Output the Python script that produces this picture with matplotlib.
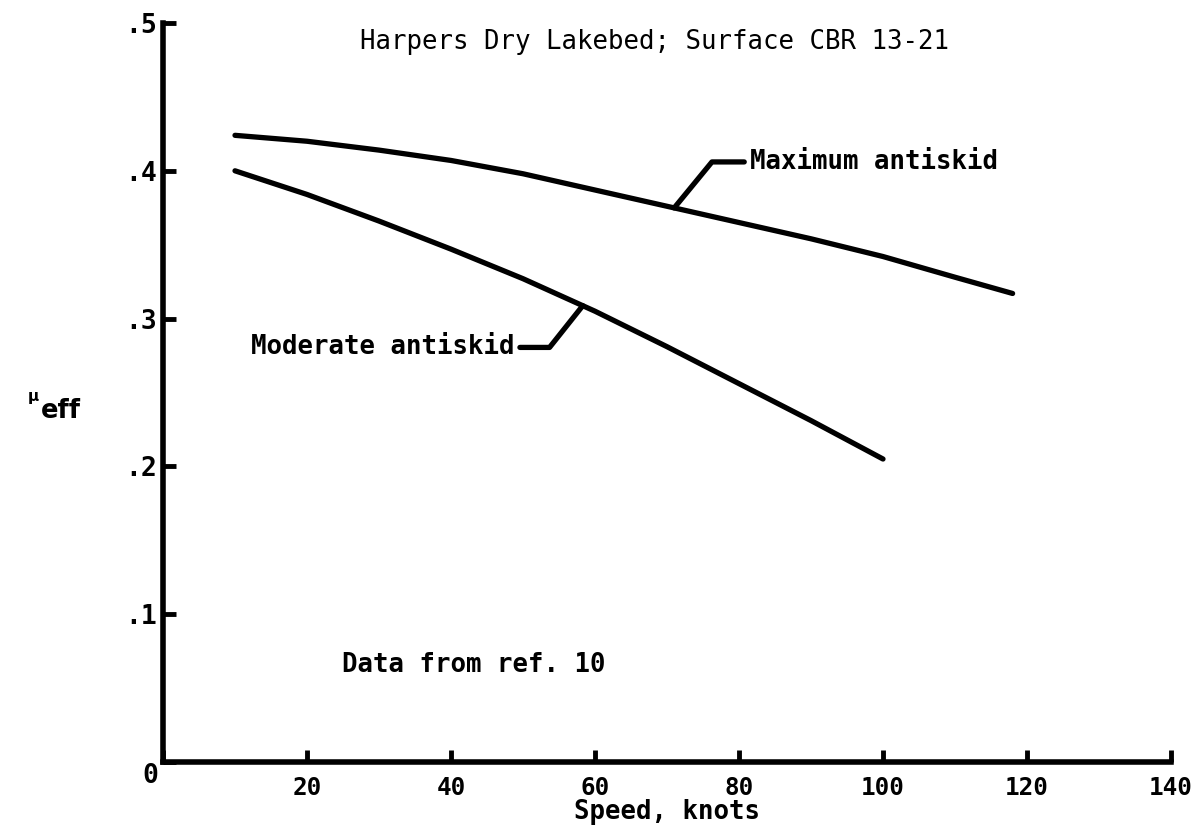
import numpy as np
import matplotlib
matplotlib.use("Agg")
import matplotlib.pyplot as plt

# Effective braking friction versus ground speed
speed_max = [10, 20, 30, 40, 50, 60, 70, 80, 90, 100, 110, 118]
mu_max = [0.424, 0.420, 0.414, 0.407, 0.398, 0.387, 0.376, 0.365, 0.354, 0.342, 0.328, 0.317]

speed_mod = [10, 20, 30, 40, 50, 60, 70, 80, 90, 100]
mu_mod = [0.400, 0.384, 0.366, 0.347, 0.327, 0.305, 0.281, 0.256, 0.231, 0.205]

x_ticks = [0, 20, 40, 60, 80, 100, 120, 140]
x_tick_labels = ["", "20", "40", "60", "80", "100", "120", "140"]
y_ticks = [0, 0.1, 0.2, 0.3, 0.4, 0.5]
y_tick_labels = ["", ".1", ".2", ".3", ".4", ".5"]

title = "Harpers Dry Lakebed; Surface CBR 13-21"
note = "Data from ref. 10"
label_max = "Maximum antiskid"
label_mod = "Moderate antiskid"

FONT = "DejaVu Sans Mono"
FS = 18.5
TICK_FS = 17.5
LW = 3.8

fig = plt.figure(figsize=(11.97, 8.27), dpi=100)
ax = fig.add_axes([163 / 1197, 1 - 762 / 827, (1171 - 163) / 1197, (762 - 23) / 827])

ax.plot(speed_max, mu_max, color="black", lw=LW, solid_capstyle="round", solid_joinstyle="round")
ax.plot(speed_mod, mu_mod, color="black", lw=LW, solid_capstyle="round", solid_joinstyle="round")

ax.set_xlim(0, 140)
ax.set_ylim(0, 0.5)
for side in ("top", "right"):
    ax.spines[side].set_visible(False)
for side in ("left", "bottom"):
    ax.spines[side].set_linewidth(4.0)

ax.set_xticks(x_ticks)
ax.set_xticklabels(x_tick_labels, fontfamily=FONT, fontsize=TICK_FS, fontweight="bold")
ax.set_yticks(y_ticks)
ax.set_yticklabels(y_tick_labels, fontfamily=FONT, fontsize=TICK_FS + 1.5, fontweight="bold")
ax.tick_params(axis="x", direction="in", length=9, width=3.5, pad=10)
ax.tick_params(axis="y", direction="in", length=9, width=3.5, pad=4)

# Shared origin label at the corner
ax.text(-0.005, -0.002, "0", transform=ax.transAxes, ha="right", va="top",
        fontfamily=FONT, fontsize=TICK_FS + 1.5, fontweight="bold")

ax.text(0.5, -0.050, "Speed, knots", transform=ax.transAxes, ha="center", va="top",
        fontfamily=FONT, fontsize=FS, fontweight="bold")

# Axis symbol
fig.text(28 / 1197, 1 - 397 / 827, "\u03bc", fontfamily="DejaVu Sans", fontsize=11,
         ha="left", va="center", fontweight="bold")
fig.text(41 / 1197, 1 - 411 / 827, "eff", fontfamily="DejaVu Sans", fontsize=FS,
         ha="left", va="center", fontweight="bold")

ax.text(68.3, 0.487, title, ha="center", va="center",
        fontfamily=FONT, fontsize=FS)
ax.text(24.9, 0.0656, note, ha="left", va="center",
        fontfamily=FONT, fontsize=FS, fontweight="bold")

# Curve labels with leader lines
x_pt = 71.0
ax.annotate(label_max, xy=(x_pt, np.interp(x_pt, speed_max, mu_max)),
            xytext=(81.5, 0.406), ha="left", va="center",
            fontfamily=FONT, fontsize=FS, fontweight="bold",
            arrowprops=dict(arrowstyle="-", lw=LW, color="black", relpos=(0, 0.5),
                            shrinkA=2, shrinkB=0,
                            connectionstyle="angle,angleA=0,angleB=50.6,rad=0"))

x_pt = 58.3
ax.annotate(label_mod, xy=(x_pt, np.interp(x_pt, speed_mod, mu_mod)),
            xytext=(48.8, 0.2805), ha="right", va="center",
            fontfamily=FONT, fontsize=FS, fontweight="bold",
            arrowprops=dict(arrowstyle="-", lw=LW, color="black", relpos=(1, 0.5),
                            shrinkA=2, shrinkB=0,
                            connectionstyle="angle,angleA=0,angleB=51.5,rad=0"))

fig.savefig("out.png", dpi=100)
